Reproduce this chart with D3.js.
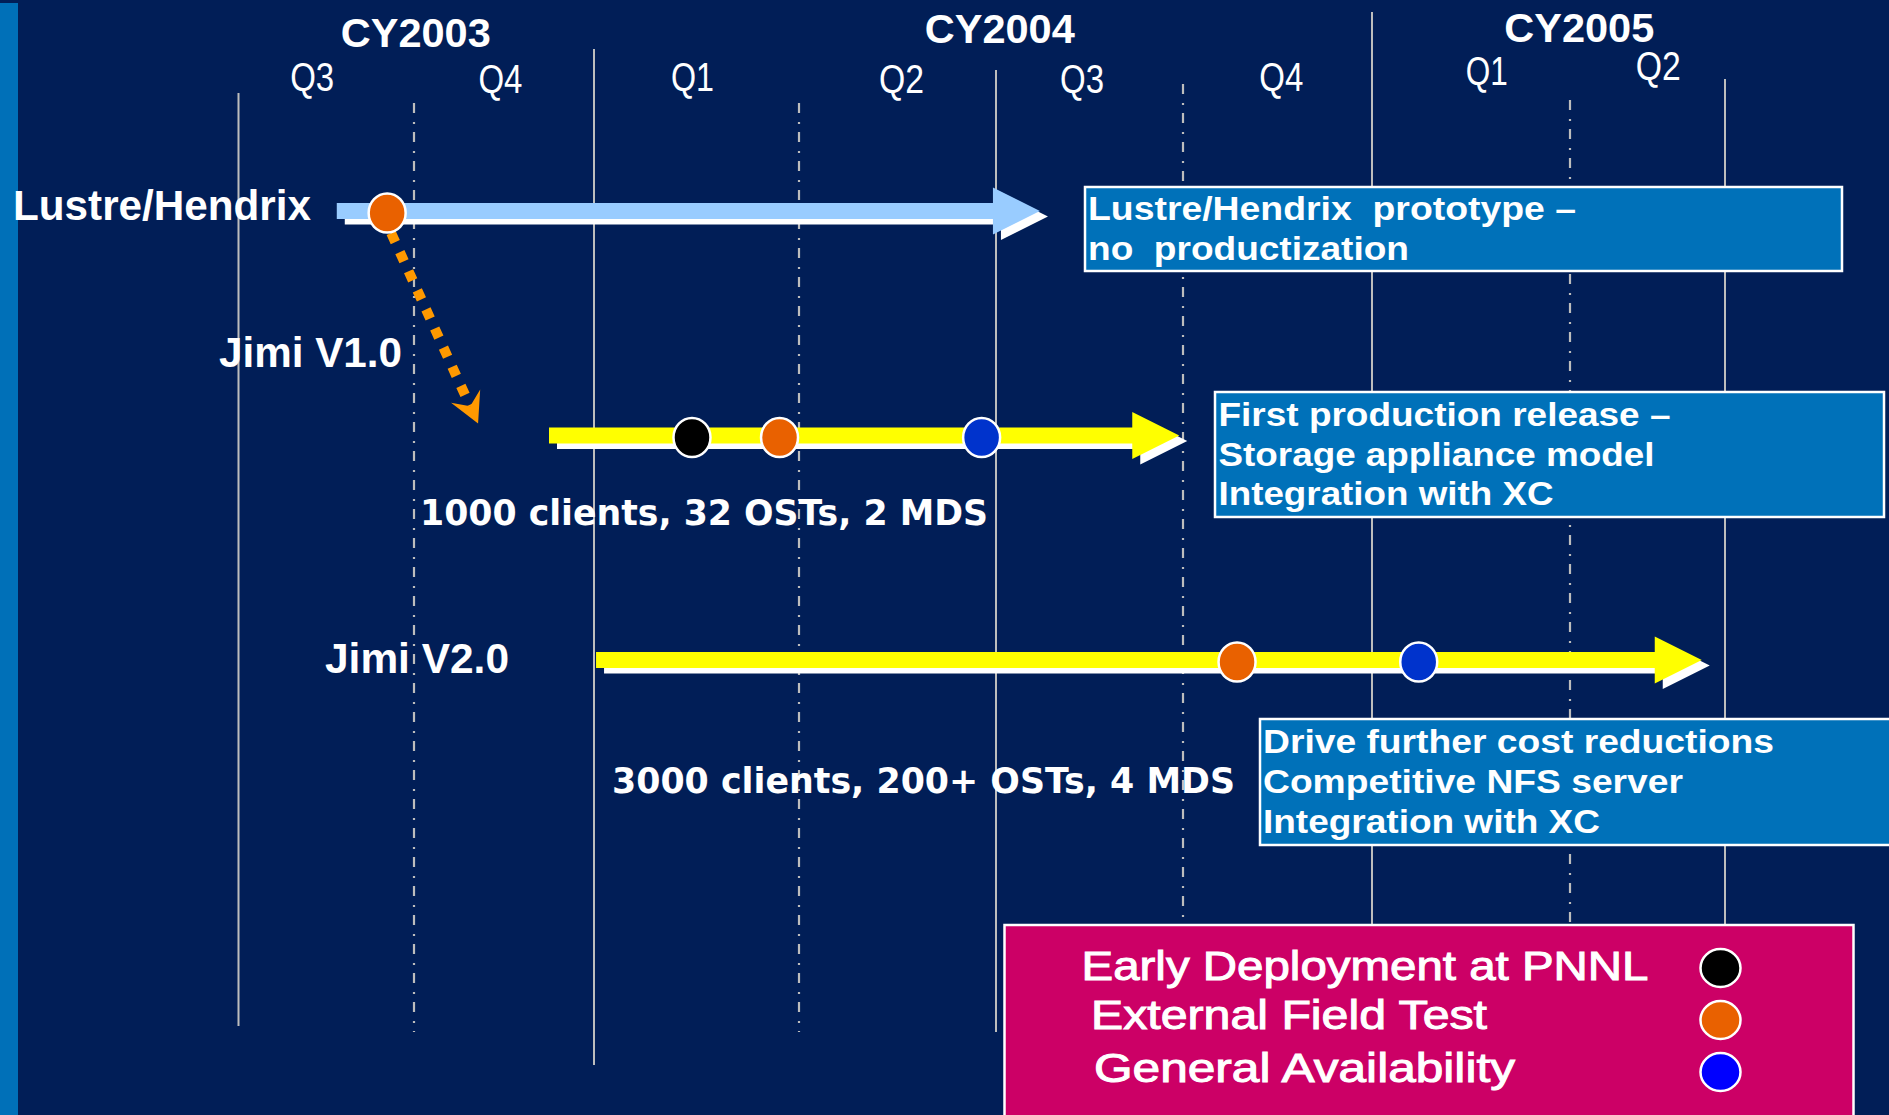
<!DOCTYPE html>
<html>
<head>
<meta charset="utf-8">
<script src="https://cdn.jsdelivr.net/npm/d3@7"></script>
<style>
  html, body { margin: 0; padding: 0; background: #011E57; overflow: hidden; }
  svg { display: block; }
</style>
</head>
<body>
<svg id="chart" width="1889" height="1115"></svg>
<script>
// ---------------- DATA ----------------
// timeline in quarter units: 0 = start of Q3 CY2003, 8 = end of Q2 CY2005
const boundaryQuarters = [0, 1, 2, 3, 4, 5, 6, 7, 8];
const boundaryKinds = ["solid", "dash", "solid", "dash", "solid", "dash", "solid", "dash", "solid"];
const quarterLabels = ["Q3", "Q4", "Q1", "Q2", "Q3", "Q4", "Q1", "Q2"];
const quarterLabelAt = [0.42, 1.48, 2.48, 3.52, 4.46, 5.52, 6.58, 7.57];
const yearLabels = ["CY2003", "CY2004", "CY2005"];
const yearLabelAt = [1.01, 4.02, 7.06];

const trackNames = ["Lustre/Hendrix", "Jimi V1.0", "Jimi V2.0"];
const trackStart = [0.56, 1.75, 2.01];
const trackEnd = [4.235, 4.98, 7.85];

const milestoneTrack = [0, 1, 1, 1, 2, 2];
const milestoneAt = [0.847, 2.478, 2.905, 3.927, 5.286, 6.236];
const milestoneType = ["eft", "early", "eft", "ga", "eft", "ga"];

// derived-release connector: from Lustre milestone 0 to Jimi V1.0 track
const connectorFrom = 0;
const connectorToTrack = 1;
const connectorToAt = 1.356;

const capacityNotes = ["1000 clients, 32 OSTs, 2 MDS", "3000 clients, 200+ OSTs, 4 MDS"];

const note1Lines = ["Lustre/Hendrix  prototype –", "no  productization"];
const note2Lines = ["First production release –", "Storage appliance model", "Integration with XC"];
const note3Lines = ["Drive further cost reductions", "Competitive NFS server", "Integration with XC"];

const legendLabels = ["Early Deployment at PNNL", "External Field Test", "General Availability"];
const legendTypes = ["early", "eft", "ga"];

// ---------------- STYLE / LAYOUT ----------------
const BG = "#011E57";
const GRID = "#BDBDBD";
const BOX = "#0071B9";
const LEGEND_BG = "#CC0066";
const trackColor = ["#99CCFF", "#FFFF00", "#FFFF00"];
const dotColor = { early: "#000000", eft: "#E96100", ga: "#0033CC" };
const legendDotColor = { early: "#000000", eft: "#E96100", ga: "#0000FF" };
const BOLD = "'Liberation Sans', Arial, Helvetica, sans-serif";
const NARROW = "'Liberation Sans Narrow', 'Liberation Sans', Arial, sans-serif";
const HEAVY = "'DejaVu Sans', 'Liberation Sans', sans-serif";

const svg = d3.select("#chart");

const x = d3.scaleLinear()
  .domain(boundaryQuarters)
  .range([238.5, 414, 594, 799, 996, 1183, 1372, 1570, 1725]);
const y = d3.scalePoint().domain(trackNames).range([211, 660]);

const gridTop = [93, 103, 49, 103, 70, 84, 12, 100, 79];
const gridBottom = [1026, 1032, 1065, 1032, 1032, 1060, 1060, 1060, 1060];
const qLabelBase = [91, 93, 91, 93, 93, 91, 85, 80];
const qLabelWidth = [44, 44, 43, 45, 44, 44, 42, 45];
const yearBase = [47, 43, 42];

// background
svg.append("rect").attr("width", 1889).attr("height", 1115).attr("fill", BG);
svg.append("rect").attr("x", 0).attr("y", 3).attr("width", 18).attr("height", 1112).attr("fill", "#0070B8");

// grid lines (quarter boundaries)
svg.append("g").selectAll("line")
  .data(boundaryQuarters)
  .join("line")
  .attr("x1", d => x(d)).attr("x2", d => x(d))
  .attr("y1", (d, i) => gridTop[i]).attr("y2", (d, i) => gridBottom[i])
  .attr("stroke", GRID)
  .attr("stroke-width", (d, i) => boundaryKinds[i] === "solid" ? 2 : 2.2)
  .attr("stroke-dasharray", (d, i) => boundaryKinds[i] === "solid" ? null : "10,9,2,8");

// year labels
svg.append("g").selectAll("text")
  .data(yearLabels)
  .join("text")
  .attr("x", (d, i) => x(yearLabelAt[i]) - 75)
  .attr("y", (d, i) => yearBase[i])
  .attr("textLength", 150).attr("lengthAdjust", "spacingAndGlyphs")
  .attr("font-family", BOLD).attr("font-weight", "bold").attr("font-size", 41)
  .attr("fill", "#fff")
  .text(d => d);

// quarter labels
svg.append("g").selectAll("text")
  .data(quarterLabels)
  .join("text")
  .attr("x", (d, i) => x(quarterLabelAt[i]) - qLabelWidth[i] / 2)
  .attr("y", (d, i) => qLabelBase[i])
  .attr("textLength", (d, i) => qLabelWidth[i]).attr("lengthAdjust", "spacingAndGlyphs")
  .attr("font-family", NARROW).attr("font-size", 40)
  .attr("fill", "#fff")
  .text(d => d);

// note boxes
function noteBox(x0, y0, w, h, lines, tx, bases, widths) {
  const g = svg.append("g");
  g.append("rect").attr("x", x0).attr("y", y0).attr("width", w).attr("height", h)
    .attr("fill", BOX).attr("stroke", "#fff").attr("stroke-width", 2.5);
  g.selectAll("text").data(lines).join("text")
    .attr("x", tx).attr("y", (d, i) => bases[i])
    .attr("textLength", (d, i) => widths[i]).attr("lengthAdjust", "spacingAndGlyphs")
    .style("white-space", "pre")
    .attr("font-family", BOLD).attr("font-weight", "bold").attr("font-size", 34)
    .attr("fill", "#fff")
    .text(d => d);
}
noteBox(1085, 187, 757, 84, note1Lines, 1088, [220, 260], [488, 321]);
noteBox(1215, 392, 669, 125, note2Lines, 1218.5, [426, 466, 505], [452, 436, 335]);
noteBox(1260, 719, 640, 126, note3Lines, 1263, [753, 793, 833], [511, 420, 337]);

// track arrows
function arrowPath(x0, x1, cy) {
  const h = 8, H = 23.5, L = 47;
  const p = d3.path();
  p.moveTo(x0, cy - h); p.lineTo(x1 - L, cy - h); p.lineTo(x1 - L, cy - H);
  p.lineTo(x1, cy); p.lineTo(x1 - L, cy + H); p.lineTo(x1 - L, cy + h);
  p.lineTo(x0, cy + h); p.closePath();
  return p.toString();
}
const tracks = trackNames.map((n, i) => ({ name: n, s: trackStart[i], e: trackEnd[i], i }));
const tg = svg.append("g");
tg.selectAll("path.shadow").data(tracks).join("path")
  .attr("class", "shadow")
  .attr("d", d => arrowPath(x(d.s), x(d.e), y(d.name)))
  .attr("transform", "translate(8,5.5)")
  .attr("fill", "#fff");
tg.selectAll("path.arrow").data(tracks).join("path")
  .attr("class", "arrow")
  .attr("d", d => arrowPath(x(d.s), x(d.e), y(d.name)))
  .attr("fill", d => trackColor[d.i]);

// connector (dashed orange arrow)
{
  const x0 = x(milestoneAt[connectorFrom]) + 4;
  const y0 = y(trackNames[milestoneTrack[connectorFrom]]) + 22;
  const x1 = x(connectorToAt);
  const y1 = y(trackNames[connectorToTrack]) - 12;
  const dx = x1 - x0, dy = y1 - y0, len = Math.hypot(dx, dy);
  const ux = dx / len, uy = dy / len, px = -uy, py = ux;
  const back = 30, half = 16, notch = 19;
  svg.append("line")
    .attr("x1", x0).attr("y1", y0)
    .attr("x2", x1 - ux * notch).attr("y2", y1 - uy * notch)
    .attr("stroke", "#FF9900").attr("stroke-width", 10)
    .attr("stroke-dasharray", "10,11");
  const pts = [
    [x1, y1],
    [x1 - ux * back + px * half, y1 - uy * back + py * half],
    [x1 - ux * notch, y1 - uy * notch],
    [x1 - ux * back - px * half, y1 - uy * back - py * half]
  ];
  svg.append("polygon").attr("points", pts.map(p => p.join(",")).join(" "))
    .attr("fill", "#FF9900");
}

// milestone dots
const ms = milestoneAt.map((a, i) => ({ a, t: milestoneTrack[i], type: milestoneType[i] }));
svg.append("g").selectAll("ellipse").data(ms).join("ellipse")
  .attr("cx", d => x(d.a))
  .attr("cy", d => y(trackNames[d.t]) + 2)
  .attr("rx", 18.5).attr("ry", 19.5)
  .attr("fill", d => dotColor[d.type])
  .attr("stroke", "#fff").attr("stroke-width", 2.5);

// track labels
const trackLabelPos = [{ x: 13, y: 220, w: 298 }, { x: 219, y: 367, w: 183 }, { x: 325, y: 673, w: 184 }];
svg.append("g").selectAll("text").data(trackNames).join("text")
  .attr("x", (d, i) => trackLabelPos[i].x).attr("y", (d, i) => trackLabelPos[i].y)
  .attr("textLength", (d, i) => trackLabelPos[i].w).attr("lengthAdjust", "spacingAndGlyphs")
  .attr("font-family", BOLD).attr("font-weight", "bold").attr("font-size", 42)
  .attr("fill", "#fff")
  .text(d => d);

// capacity notes
const capPos = [{ x: 420, y: 525, w: 568 }, { x: 612, y: 793, w: 623 }];
svg.append("g").selectAll("text").data(capacityNotes).join("text")
  .attr("x", (d, i) => capPos[i].x).attr("y", (d, i) => capPos[i].y)
  .attr("textLength", (d, i) => capPos[i].w).attr("lengthAdjust", "spacingAndGlyphs")
  .attr("font-family", HEAVY).attr("font-weight", "bold").attr("font-size", 35)
  .attr("fill", "#fff")
  .text(d => d);

// legend
const lg = svg.append("g");
lg.append("rect").attr("x", 1004.5).attr("y", 925).attr("width", 849).attr("height", 200)
  .attr("fill", LEGEND_BG).attr("stroke", "#fff").attr("stroke-width", 2.5);
const legY = d3.scalePoint().domain(legendTypes).range([968, 1072]);
const legText = [{ x: 1081.5, dy: 12, w: 567 }, { x: 1091, dy: 9, w: 396 }, { x: 1094, dy: 10, w: 421 }];
lg.selectAll("text").data(legendLabels).join("text")
  .attr("x", (d, i) => legText[i].x)
  .attr("y", (d, i) => legY(legendTypes[i]) + legText[i].dy)
  .attr("textLength", (d, i) => legText[i].w).attr("lengthAdjust", "spacingAndGlyphs")
  .attr("font-family", BOLD).attr("font-weight", "normal")
  .attr("font-size", 41)
  .attr("fill", "#fff").attr("stroke", "#fff").attr("stroke-width", 1)
  .text(d => d);
lg.selectAll("ellipse").data(legendTypes).join("ellipse")
  .attr("cx", 1720.5).attr("cy", d => legY(d))
  .attr("rx", 20).attr("ry", 19)
  .attr("fill", d => legendDotColor[d])
  .attr("stroke", "#fff").attr("stroke-width", 2.5);
</script>
</body>
</html>
